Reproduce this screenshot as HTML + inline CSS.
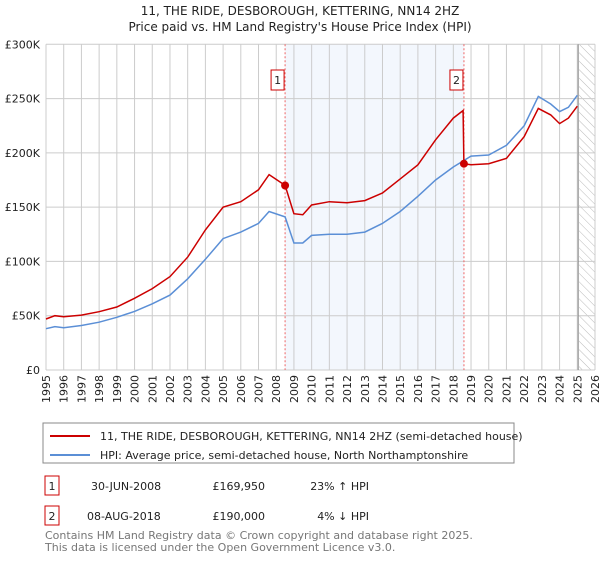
<!DOCTYPE html>
<html><head><meta charset="utf-8"><style>
body{margin:0;background:#fff;font-family:"Liberation Sans","DejaVu Sans",sans-serif;}
</style></head><body>
<svg width="600" height="560" xmlns="http://www.w3.org/2000/svg" style="font-family:'DejaVu Sans','Liberation Sans',sans-serif">
<defs><pattern id="hatch" width="6" height="6" patternUnits="userSpaceOnUse" patternTransform="rotate(-45)"><line x1="0" y1="0" x2="0" y2="6" stroke="#bbb" stroke-width="1"/></pattern></defs>
<text x="300" y="15" text-anchor="middle" font-size="12" fill="#222">11, THE RIDE, DESBOROUGH, KETTERING, NN14 2HZ</text>
<text x="300" y="31" text-anchor="middle" font-size="12" fill="#222">Price paid vs. HM Land Registry's House Price Index (HPI)</text>
<g id="plot"></g>
<rect x="43" y="423" width="471" height="40" fill="#fff" stroke="#888"/>
<line x1="50" y1="436" x2="90" y2="436" stroke="#cc0000" stroke-width="2"/>
<text x="100" y="440" font-size="11" fill="#222">11, THE RIDE, DESBOROUGH, KETTERING, NN14 2HZ (semi-detached house)</text>
<line x1="50" y1="455" x2="90" y2="455" stroke="#5b8fd6" stroke-width="2"/>
<text x="100" y="459" font-size="11" fill="#222">HPI: Average price, semi-detached house, North Northamptonshire</text>
<rect x="45" y="476" width="14" height="19" fill="#fff" stroke="#cc0000"/>
<text x="52" y="490" font-size="11" text-anchor="middle" fill="#222">1</text>
<text x="91" y="490" font-size="11" fill="#222">30-JUN-2008</text>
<text x="265" y="490" font-size="11" text-anchor="end" fill="#222">£169,950</text>
<text x="369" y="490" font-size="11" text-anchor="end" fill="#222">23% ↑ HPI</text>
<rect x="45" y="506" width="14" height="19" fill="#fff" stroke="#cc0000"/>
<text x="52" y="520" font-size="11" text-anchor="middle" fill="#222">2</text>
<text x="87" y="520" font-size="11" fill="#222">08-AUG-2018</text>
<text x="265" y="520" font-size="11" text-anchor="end" fill="#222">£190,000</text>
<text x="369" y="520" font-size="11" text-anchor="end" fill="#222">4% ↓ HPI</text>
<text x="45" y="539" font-size="11" fill="#777">Contains HM Land Registry data © Crown copyright and database right 2025.</text>
<text x="45" y="551" font-size="11" fill="#777">This data is licensed under the Open Government Licence v3.0.</text>
</svg>
<script>
const redYears=[1995,1995.5,1996,1997,1998,1999,2000,2001,2002,2003,2004,2005,2006,2007,2007.6,2008.5,2009,2009.5,2010,2011,2012,2013,2014,2015,2016,2017,2018,2018.55,2018.6,2019,2020,2021,2022,2022.8,2023.5,2024,2024.5,2025];
const redValues=[47,50,49,50.6,53.7,58,66,75,86,104,129,150,155,166,180,170,144,143,152,155,154,156,163,176,189,212,232,239,190,189,190,195,215,241,235,227,232,243];
const blueYears=[1995,1995.5,1996,1997,1998,1999,2000,2001,2002,2003,2004,2005,2006,2007,2007.6,2008.5,2009,2009.5,2010,2011,2012,2013,2014,2015,2016,2017,2018,2018.6,2019,2020,2021,2022,2022.8,2023.5,2024,2024.5,2025];
const blueValues=[38,40,39,41,44,48.5,54,61,69,84,102,121,127,135,146,141,117,117,124,125,125,127,135,146,160,175,187,193,197,198,207,225,252,245,238,242,253];
const yTicks=[0,50,100,150,200,250,300];
const yTickLabels=["£0","£50K","£100K","£150K","£200K","£250K","£300K"];
const xTicks=[1995,1996,1997,1998,1999,2000,2001,2002,2003,2004,2005,2006,2007,2008,2009,2010,2011,2012,2013,2014,2015,2016,2017,2018,2019,2020,2021,2022,2023,2024,2025,2026];
const saleYears=[2008.5,2018.6];
const saleValues=[169.95,190];
const saleLabels=["1","2"];
const X0=46,X1=595,Y0=370,Y1=44.3;
const xs=t=>X0+(t-1995)/(2026-1995)*(X1-X0);
const ys=v=>Y0-v/300*(Y0-Y1);
const NS="http://www.w3.org/2000/svg";
const g=document.getElementById('plot');
function mk(tag,attrs){const e=document.createElementNS(NS,tag);for(const k in attrs)e.setAttribute(k,attrs[k]);g.appendChild(e);return e;}
let e;
e=mk('rect',{x:xs(saleYears[0]),y:Y1,width:xs(saleYears[1])-xs(saleYears[0]),height:Y0-Y1,fill:'#eef3fc',opacity:0.7});


e=mk('rect',{x:xs(2025.1),y:Y1,width:X1-xs(2025.1),height:Y0-Y1,fill:'url(#hatch)'});


xTicks.forEach(t=>{
 e=mk('line',{x1:xs(t),x2:xs(t),y1:Y1,y2:Y0,stroke:'#ccc','stroke-width':1});
 
 
 e=mk('text',{x:0,y:0,transform:`translate(${xs(t)+4},${Y0+5}) rotate(-90)`,'text-anchor':'end','font-size':11,fill:'#222'});
 e.textContent=t;
 
 
});
yTicks.forEach((v,i)=>{
 e=mk('line',{x1:X0,x2:X1,y1:ys(v),y2:ys(v),stroke:'#ccc','stroke-width':1});
 
 
 e=mk('text',{x:X0-6,y:ys(v)+4,'text-anchor':'end','font-size':11,fill:'#222'});
 e.textContent=yTickLabels[i];
 
 
});
e=mk('line',{x1:xs(2025.05),x2:xs(2025.05),y1:Y1,y2:Y0,stroke:'#888','stroke-width':1});


saleYears.forEach((t,i)=>{
 e=mk('line',{x1:xs(t),x2:xs(t),y1:Y1,y2:Y0,stroke:'#e66','stroke-width':1,'stroke-dasharray':'2,2'});
 
 
 e=mk('rect',{x:xs(t)-14,y:70,width:13,height:20,fill:'#fff',stroke:'#cc0000'});
 
 
 e=mk('text',{x:xs(t)-7.5,y:84,'text-anchor':'middle','font-size':11,fill:'#222'});
 e.textContent=saleLabels[i];
 
 
});
function path(xa,va){return xa.map((t,i)=>(i?'L':'M')+xs(t).toFixed(1)+','+ys(va[i]).toFixed(1)).join('');}
e=mk('path',{d:path(blueYears,blueValues),fill:'none',stroke:'#5b8fd6','stroke-width':1.5});


e=mk('path',{d:path(redYears,redValues),fill:'none',stroke:'#cc0000','stroke-width':1.5});


saleYears.forEach((t,i)=>{
 e=mk('circle',{cx:xs(t),cy:ys(saleValues[i]),r:4,fill:'#cc0000'});
 
 
});
</script>
</body></html>
